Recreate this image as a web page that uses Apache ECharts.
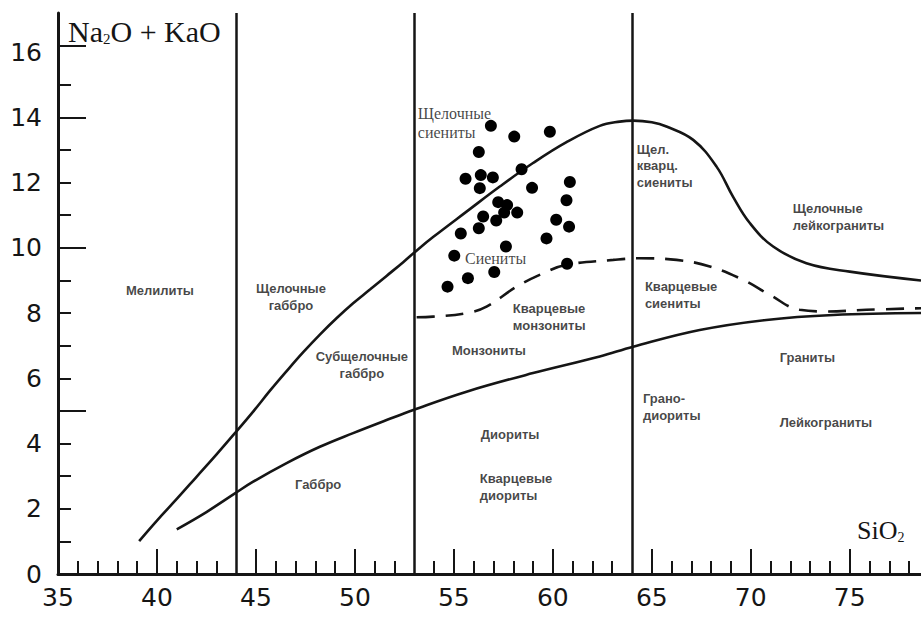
<!DOCTYPE html>
<html>
<head>
<meta charset="utf-8">
<title>TAS</title>
<script src="https://cdn.jsdelivr.net/npm/echarts@6/dist/echarts.min.js"></script>
<style>
  html, body { margin: 0; padding: 0; background: #fff; }
  #chart { width: 921px; height: 618px; }
</style>
</head>
<body>
<div id="chart"></div>
<script>
// SiO2 / Na2O+K2O diagram
const upperCurve = [
  [39.1, 1.01], [40.0, 1.64], [41.0, 2.3], [42.0, 2.98], [43.0, 3.66], [43.94, 4.32],
  [44.86, 4.98], [45.71, 5.62], [46.55, 6.22], [47.39, 6.8], [48.23, 7.34],
  [49.07, 7.84], [49.91, 8.3], [50.76, 8.72], [51.6, 9.14], [52.44, 9.56],
  [53.2, 9.96], [53.95, 10.33], [55.64, 11.11], [57.32, 11.88], [59.0, 12.6],
  [60.69, 13.24], [62.37, 13.74], [63.38, 13.87], [64.06, 13.9], [65.0, 13.85],
  [65.74, 13.72], [67.09, 13.31], [68.27, 12.49], [69.1, 11.57], [69.95, 10.76],
  [71.13, 10.04], [72.81, 9.53], [75.0, 9.27], [78.6, 9.0]
];
const lowerCurve = [
  [41.0, 1.37], [42.5, 1.9], [43.94, 2.47], [44.86, 2.83], [46.55, 3.4],
  [48.23, 3.9], [49.91, 4.32], [51.6, 4.72], [52.95, 5.03],
  [55.64, 5.59], [59.0, 6.16], [62.37, 6.67], [64.06, 6.97], [67.42, 7.48],
  [70.79, 7.79], [74.16, 7.94], [78.6, 8.0]
];
const dashedCurve = [
  [53.12, 7.87], [53.95, 7.89], [55.64, 8.0], [56.65, 8.2], [58.17, 8.81],
  [59.51, 9.22], [60.69, 9.48], [63.05, 9.63], [64.39, 9.68], [66.25, 9.63],
  [67.93, 9.43], [69.61, 9.02], [70.96, 8.56], [72.47, 8.1], [73.82, 8.05],
  [75.84, 8.1], [78.6, 8.15]
];
const samples = [
  [56.87, 13.74], [58.05, 13.41], [59.85, 13.56], [56.26, 12.94], [56.36, 12.23],
  [55.59, 12.12], [56.97, 12.16], [58.42, 12.41], [56.31, 11.83], [58.95, 11.84],
  [60.86, 12.02], [57.24, 11.4], [57.69, 11.31], [60.69, 11.46], [56.48, 10.96],
  [57.54, 11.08], [58.2, 11.08], [57.14, 10.84], [60.17, 10.86], [60.82, 10.65],
  [56.26, 10.6], [55.35, 10.44], [59.68, 10.29], [57.63, 10.04], [55.02, 9.76],
  [60.72, 9.51], [55.71, 9.07], [57.04, 9.26], [54.68, 8.81]
];
const boundaries = [44, 53, 64];

const xLabels = [35, 40, 45, 50, 55, 60, 65, 70, 75];
const xMajorTicks = [40, 45, 50, 55, 60, 65, 70, 75];
const xMinorTicks = [36, 37, 38, 39, 41, 42, 43, 46, 47, 48, 49, 51, 52, 54, 56, 57, 58, 59,
  61, 62, 63, 66, 67, 68, 69, 71, 72, 73, 74, 76, 77, 78];
const yLabels = [0, 2, 4, 6, 8, 10, 12, 14, 16];
const yMajorTicks = [5, 10, 14, 16.2];
const yMinorTicks = [1, 2, 3, 4, 6, 7, 8, 9, 11, 12, 13, 15];

// [x at left edge, y at middle, text]
const leftLabels = [
  [38.43, 8.68, 'Мелилиты'],
  [46.97, 2.73, 'Габбро'],
  [57.98, 7.88, 'Кварцевые\nмонзониты'],
  [54.9, 6.84, 'Монзониты'],
  [56.36, 4.29, 'Диориты'],
  [56.31, 2.67, 'Кварцевые\nдиориты'],
  [64.24, 12.52, 'Щел.\nкварц.\nсиениты'],
  [72.12, 10.95, 'Щелочные\nлейкограниты'],
  [64.65, 8.56, 'Кварцевые\nсиениты'],
  [71.46, 6.63, 'Граниты'],
  [64.55, 5.12, 'Грано-\nдиориты'],
  [71.46, 4.63, 'Лейкограниты']
];
// [x at centre, y at middle, text]
const centredLabels = [
  [46.77, 8.5, 'Щелочные\nгаббро'],
  [50.35, 6.41, 'Субщелочные\nгаббро']
];
const serifLabels = [
  [53.18, 13.83, 'Щелочные\nсиениты'],
  [55.56, 9.66, 'Сиениты']
];

const INK = '#151515';

const labelSeries = (rows, align, font) => ({
  type: 'scatter',
  symbolSize: 0,
  silent: true,
  data: rows.map(r => ({ value: [r[0], r[1]], name: r[2] })),
  label: {
    show: true,
    position: [0, 0],
    align: align,
    verticalAlign: 'middle',
    formatter: p => p.name,
    color: INK,
    ...font
  },
  z: 5
});

const chart = echarts.init(document.getElementById('chart'), null, { renderer: 'svg' });

const axisFont = { fontFamily: 'DejaVu Sans', fontSize: 25, color: INK };
const tickStyle = { color: INK, width: 2 };

chart.setOption({
  animation: false,
  grid: { left: 58, right: 0, top: 13, bottom: 44 },
  xAxis: [
    {
      type: 'value', min: 35, max: 78.6, interval: 5, position: 'bottom',
      splitLine: { show: false },
      axisLine: { lineStyle: { color: INK, width: 3 } },
      axisTick: { show: true, inside: true, length: 25, customValues: xMajorTicks, lineStyle: tickStyle },
      axisLabel: { customValues: xLabels, margin: 11, ...axisFont }
    },
    {
      type: 'value', min: 35, max: 78.6, interval: 5, position: 'bottom',
      splitLine: { show: false },
      axisLine: { show: false },
      axisTick: { show: true, inside: true, length: 13, customValues: xMinorTicks, lineStyle: tickStyle },
      axisLabel: { show: false }
    }
  ],
  yAxis: [
    {
      type: 'value', min: 0, max: 17.2, interval: 2, position: 'left',
      splitLine: { show: false },
      axisLine: { lineStyle: { color: INK, width: 3 } },
      axisTick: { show: true, inside: true, length: 28, customValues: yMajorTicks, lineStyle: tickStyle },
      axisLabel: { customValues: yLabels, margin: 16, ...axisFont }
    },
    {
      type: 'value', min: 0, max: 17.2, interval: 2, position: 'left',
      splitLine: { show: false },
      axisLine: { show: false },
      axisTick: { show: true, inside: true, length: 13, customValues: yMinorTicks, lineStyle: tickStyle },
      axisLabel: { show: false }
    }
  ],
  graphic: [
    {
      type: 'text', x: 68, y: 31,
      style: {
        text: '{a|Na}{s|2}{a|O + KaO}',
        verticalAlign: 'middle', align: 'left',
        rich: {
          a: { fontFamily: 'Liberation Serif', fontSize: 30, fill: INK, color: INK },
          s: { fontFamily: 'Liberation Serif', fontSize: 15, fill: INK, color: INK, verticalAlign: 'bottom', padding: [8, 0, 0, 0] }
        }
      }
    },
    {
      type: 'text', x: 857, y: 530,
      style: {
        text: '{a|SiO}{s|2}',
        verticalAlign: 'middle', align: 'left',
        rich: {
          a: { fontFamily: 'Liberation Serif', fontSize: 26, fill: INK, color: INK },
          s: { fontFamily: 'Liberation Serif', fontSize: 14, fill: INK, color: INK, verticalAlign: 'bottom', padding: [14, 0, 0, 0] }
        }
      }
    }
  ],
  series: [
    {
      name: 'boundaries', type: 'line', data: [], silent: true,
      markLine: {
        symbol: 'none', silent: true, animation: false,
        label: { show: false },
        lineStyle: { color: INK, width: 2.5, type: 'solid' },
        data: boundaries.map(v => ({ xAxis: v }))
      }
    },
    {
      name: 'upper', type: 'line', data: upperCurve, smooth: 0.4, showSymbol: false,
      lineStyle: { color: INK, width: 2.6 }
    },
    {
      name: 'lower', type: 'line', data: lowerCurve, smooth: 0.4, showSymbol: false,
      lineStyle: { color: INK, width: 2.6 }
    },
    {
      name: 'dashed', type: 'line', data: dashedCurve, smooth: 0.4, showSymbol: false,
      lineStyle: { color: INK, width: 2.6, type: [18, 11] }
    },
    {
      name: 'samples', type: 'scatter', data: samples, symbolSize: 12,
      itemStyle: { color: '#000', opacity: 1 }, z: 4
    },
    labelSeries(leftLabels, 'left', { fontFamily: 'Liberation Sans', fontWeight: 'bold', fontSize: 13, lineHeight: 16.5 }),
    labelSeries(centredLabels, 'center', { fontFamily: 'Liberation Sans', fontWeight: 'bold', fontSize: 13, lineHeight: 16.5 }),
    labelSeries(serifLabels, 'left', { fontFamily: 'Liberation Serif', fontSize: 16, lineHeight: 19 })
  ]
});
</script>
</body>
</html>
